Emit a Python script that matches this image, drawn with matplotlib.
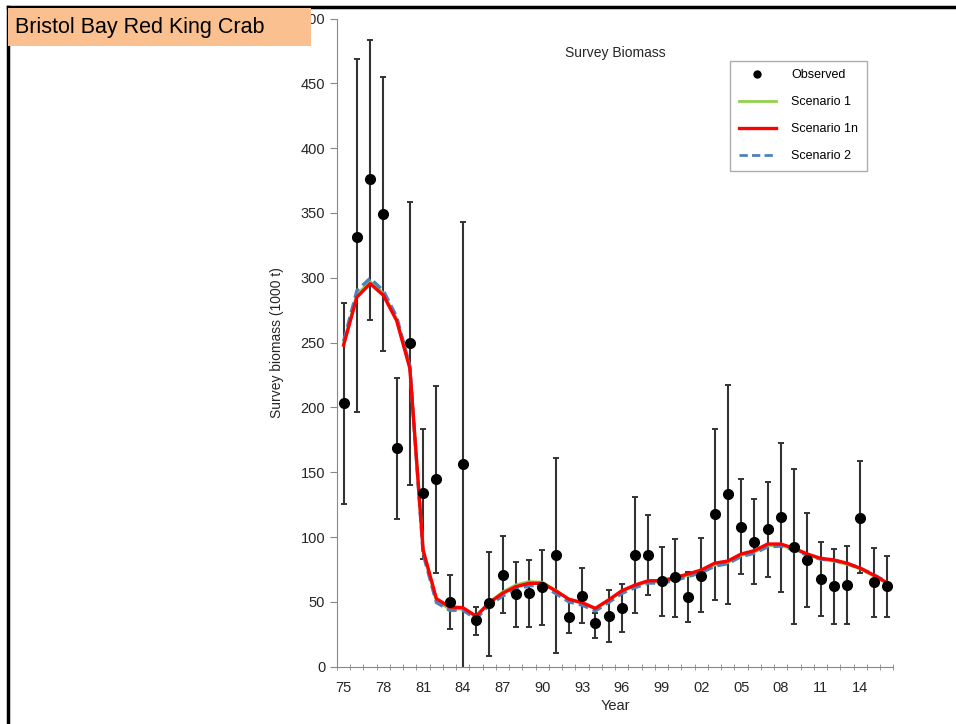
import matplotlib.pyplot as plt
import numpy as np
from matplotlib.lines import Line2D
from matplotlib.patches import Rectangle

plt.rcParams['font.family'] = ['Liberation Sans', 'DejaVu Sans']

years = np.arange(1975, 2017)

# observed survey biomass (1000 t) with interval bounds
obs = [203.6, 331.7, 376.0, 349.2, 168.7, 249.9, 133.8, 144.8, 50.1, 156.0,
       36.0, 48.9, 70.7, 56.3, 56.6, 61.7, 86.2, 38.6, 54.5, 33.5,
       39.3, 45.5, 86.2, 86.2, 66.3, 69.0, 54.0, 70.2, 117.8, 133.0,
       108.0, 96.4, 106.0, 115.2, 92.1, 82.3, 67.6, 62.2, 63.0, 114.9,
       65.1, 62.2]
obs_hi = [280.8, 468.5, 483.4, 455.1, 222.9, 358.7, 183.4, 216.5, 70.7, 342.8,
          45.8, 88.7, 100.8, 81.0, 82.3, 90.0, 161.2, 51.5, 75.9, 41.7,
          59.2, 63.6, 131.1, 117.0, 92.6, 98.5, 73.3, 99.0, 183.4, 217.3,
          144.8, 129.1, 142.2, 172.3, 152.3, 118.8, 96.4, 90.5, 93.3, 158.7,
          91.3, 85.6]
obs_lo = [125.5, 196.2, 267.4, 243.5, 113.7, 139.9, 83.3, 72.0, 29.1, -3.0,
          24.5, 8.5, 41.7, 30.9, 30.9, 32.2, 10.8, 25.8, 33.5, 21.9,
          19.3, 27.0, 41.2, 55.3, 39.3, 38.6, 34.2, 42.4, 51.5, 48.1,
          71.5, 63.8, 69.0, 57.9, 32.7, 45.8, 39.1, 32.7, 32.7, 72.0,
          38.1, 38.1]

# model fits
scen_1n = [248, 285, 295.5, 286.5, 267, 230, 90, 52.5, 46, 45.5,
           39, 49.4, 56.6, 61.7, 64.3, 64.3, 58.6, 52.0, 49.4, 45.0,
           51.5, 58.6, 63.0, 66.3, 66.3, 68.7, 71.5, 74.6, 79.8, 81.5,
           86.9, 89.5, 94.6, 94.6, 91.3, 86.9, 83.6, 82.3, 79.8, 75.9,
           70.7, 64.8]
scen_1 = [249, 287, 297, 288, 268, 231, 89, 51, 44.5, 44.5,
          38.5, 49.5, 57.5, 63, 65.5, 65, 59, 52, 49, 44.5,
          51, 58, 62.5, 65.5, 65.5, 68, 70.5, 73.5, 78.5, 80.5,
          86, 88.5, 93.5, 93.5, 90.5, 86.5, 83, 81.5, 79, 75.5,
          70, 64.5]
scen_2 = [251, 290, 299.6, 290, 270, 232, 87, 49.5, 43.5, 43.5,
          37, 47.5, 54.5, 59.5, 62.5, 62.5, 56.5, 50, 47.5, 43,
          49.5, 56.5, 61, 64.5, 64.5, 66.5, 69.5, 72.5, 77.5, 79.5,
          85, 87.5, 92.5, 93, 90, 86, 83, 82, 79.5, 76,
          71, 65.5]

tick_years = np.arange(1975, 2015, 3)
tick_labels = [str(y)[2:] for y in tick_years]

fig = plt.figure(figsize=(9.56, 7.24), dpi=100)
ax = fig.add_axes([0.3525, 0.0792, 0.5821, 0.8952])

obs = np.array(obs)
yerr = [obs - np.array(obs_lo), np.array(obs_hi) - obs]
ax.errorbar(years, obs, yerr=yerr, fmt='none', ecolor='#333333', elinewidth=1.5,
            capsize=2.5, capthick=1.4, zorder=2)
ax.plot(years, scen_1, color='#92D050', lw=2.2, zorder=3)
ax.plot(years, scen_2, color='#4F81BD', lw=2.4, ls=(0, (3, 1.5)), zorder=4)
ax.plot(years, scen_1n, color='#FF0000', lw=2.4, zorder=5)
ax.plot(years, obs, 'o', color='black', ms=7, zorder=6)

# legend handles in reference order
handles = [Line2D([], [], marker='o', color='black', ls='none', ms=5),
           Line2D([], [], color='#92D050', lw=2),
           Line2D([], [], color='#FF0000', lw=2.4),
           Line2D([], [], color='#4F81BD', lw=2, ls=(0, (3, 1.5)))]
leg = ax.legend(handles, ['Observed', 'Scenario 1', 'Scenario 1n', 'Scenario 2'],
                loc='upper left', bbox_to_anchor=(0.706, 0.935), fontsize=9,
                frameon=True, fancybox=False, edgecolor='#999999',
                handlelength=3.0, borderpad=0.7, labelspacing=1.2,
                handletextpad=1.2, borderaxespad=0)
leg.get_frame().set_linewidth(1.0)

ax.set_xlim(1974.5, 2016.5)
ax.set_ylim(0, 500)
ax.set_yticks(np.arange(0, 501, 50))
ax.set_xticks(tick_years)
ax.set_xticklabels(tick_labels)
ax.set_xticks(np.arange(1974.5, 2017, 1), minor=True)
ax.tick_params(axis='x', which='major', length=0, labelsize=10.5, pad=10,
               labelcolor='#262626')
ax.tick_params(axis='x', which='minor', length=4, direction='inout', color='#888888')
ax.tick_params(axis='y', length=5, color='#888888', labelsize=10.5, labelcolor='#262626')

for s in ['top', 'right']:
    ax.spines[s].set_visible(False)
for s in ['left', 'bottom']:
    ax.spines[s].set_color('#888888')

ax.set_xlabel('Year', fontsize=10.5, color='#262626', labelpad=3)
ax.set_ylabel('Survey biomass (1000 t)', fontsize=10, color='#262626', labelpad=12)
ax.text(0.5, 0.94, 'Survey Biomass', transform=ax.transAxes, ha='center',
        fontsize=10, color='#262626')

# slide header box and frame
fig.patches.append(Rectangle((8 / 956, 1 - 46 / 724), 303 / 956, 38 / 724,
                             transform=fig.transFigure, facecolor='#FAC090',
                             edgecolor='none', zorder=10))
fig.text(15 / 956, 1 - 28 / 724, 'Bristol Bay Red King Crab', fontsize=15.5,
         va='center', ha='left', color='black', zorder=11)
fig.add_artist(Line2D([8 / 956, 1], [1 - 7 / 724, 1 - 7 / 724],
                      transform=fig.transFigure, color='black', lw=2.5))
fig.add_artist(Line2D([8 / 956, 8 / 956], [0, 1 - 7 / 724],
                      transform=fig.transFigure, color='black', lw=2.5))

fig.savefig('out.png', dpi=100)
